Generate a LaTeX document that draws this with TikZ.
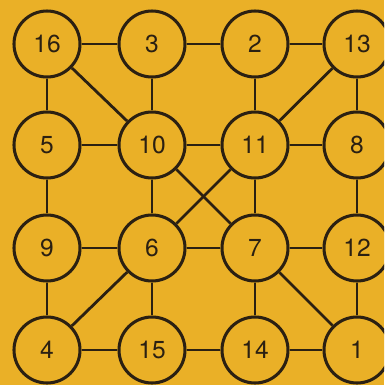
\documentclass[tikz,border=0pt]{standalone}
\usepackage{fontspec}
\setmainfont{TeX Gyre Heros}
\usetikzlibrary{positioning}
\definecolor{MagicGold}{HTML}{EAB027}
\definecolor{MagicInk}{HTML}{2B2012}

\begin{document}
\begin{tikzpicture}[x=0.03cm,y=-0.03cm,
    num/.style={circle,draw=MagicInk,line width=2.6pt,fill=MagicGold,minimum size=1.98cm,inner sep=0pt,font=\fontsize{21}{24}\selectfont,text=MagicInk},
    link/.style={MagicInk,line width=2.4pt}]
        \fill[MagicGold] (0,0) rectangle (384,385);
        \clip (0,0) rectangle (384,385);
        \useasboundingbox (0,0) rectangle (384,385);
        % the square, row by row
        \foreach \v/\x/\y in {16/47/44,3/152/44,2/255/44,13/357/44,
                              5/47/145,10/152/145,11/255/145,8/357/145,
                              9/47/248,6/152/248,7/255/248,12/357/248,
                              4/47/350,15/152/350,14/255/350,1/357/350}
          \node[num] (n\v) at (\x,\y) {\v};
        % rows and columns
        \foreach \a/\b in {16/3,3/2,2/13,5/10,10/11,11/8,9/6,6/7,7/12,4/15,15/14,14/1,
                           16/5,5/9,9/4,3/10,10/6,6/15,2/11,11/7,7/14,13/8,8/12,12/1}
          \draw[link] (n\a) -- (n\b);
        % diagonals
        \foreach \a/\b in {16/10,13/11,10/7,11/6,6/4,7/1}
          \draw[link] (n\a) -- (n\b);
      \end{tikzpicture}
\end{document}
